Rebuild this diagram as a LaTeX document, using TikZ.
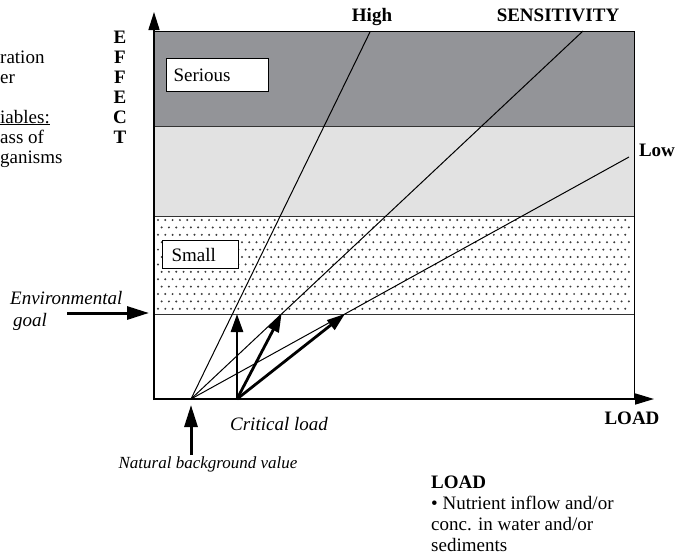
\documentclass[tikz,border=0pt]{standalone}
\usepackage{fontspec}
\setmainfont{Liberation Serif}
\usetikzlibrary{arrows.meta}
\definecolor{seriousgray}{RGB}{147,148,152}
\definecolor{lightband}{RGB}{226,226,226}
\definecolor{dotgray}{RGB}{60,60,60}

\tikzset{
    lbl/.style={font=\fontsize{19}{21}\selectfont, inner sep=0pt, anchor=base},
    boldlbl/.style={lbl, font=\fontsize{19}{21}\selectfont\bfseries},
    itlbl/.style={lbl, font=\fontsize{19}{21}\selectfont\itshape},
    levelbox/.style={draw, line width=1.2pt, fill=white, anchor=north west, inner ysep=0pt,
        font=\fontsize{19}{21}\selectfont},
    bigarrow/.style={line width=3pt, -{Triangle[length=22pt,width=13pt]}},
    critarrow/.style={line width=2.8pt, -{Triangle[length=18pt,width=12pt]}},
    sensline/.style={line width=1pt},
    bandline/.style={line width=0.9pt, draw=black!80}
}

\begin{document}
\begin{tikzpicture}[x=1pt,y=-1pt]
        \useasboundingbox (0,0) rectangle (675,555);

        % effect bands
        \fill[seriousgray] (154,31) rectangle (634,126);
        \fill[lightband] (154,126) rectangle (634,216);
        \foreach \r in {0,...,12} {
            \pgfmathsetmacro{\dy}{220+7.4*\r}
            \pgfmathsetmacro{\dx}{mod(\r,2)*3.65}
            \foreach \c in {0,...,64}
                \fill[dotgray] (158+\dx+7.3*\c, \dy) circle (1.1pt);
        }
        \draw[bandline] (154,126) -- (634,126);
        \draw[bandline] (154,216) -- (634,216);
        \draw[bandline] (154,314) -- (634,314);
        \draw[line width=0.9pt] (154,31) -- (634,31) -- (634,399);

        \node[levelbox, minimum width=102pt, minimum height=33pt, text width=88pt, inner xsep=7pt] (serious) at (166,58) {Serious};
        \node[levelbox, minimum width=76pt, minimum height=28pt, text width=58pt, inner xsep=9pt] (small) at (162,240) {Small};

        % points on the load axis and the goal line
        \coordinate (nbv) at (191,399);
        \coordinate (cl) at (237,399);
        \coordinate (goalL) at (154,314);
        \coordinate (goalR) at (634,314);
        \coordinate (hightop) at (370,32);
        \coordinate (senstop) at (583,31);
        \coordinate (lowtop) at (629,157);

        \draw[sensline] (nbv) -- (hightop);
        \draw[sensline] (nbv) -- (senstop);
        \draw[sensline] (nbv) -- (lowtop);

        \draw[critarrow] (cl) -- (cl |- goalL);
        \draw[critarrow] (cl) -- (intersection of nbv--senstop and goalL--goalR);
        \draw[critarrow] (cl) -- (intersection of nbv--lowtop and goalL--goalR);

        % axes
        \draw[line width=1.6pt, -{Triangle[length=18pt,width=11pt]}] (154,400) -- (154,12);
        \draw[line width=1.6pt, -{Triangle[length=19pt,width=11pt]}] (153.2,399) -- (654,399);

        \node[boldlbl] (high) at (372,21) {High};
        \node[boldlbl] (sens) at (558,21) {SENSITIVITY};
        \node[boldlbl] (low) at (657,156) {Low};
        \node[boldlbl] (loadaxis) at (632,424) {LOAD};

        \foreach \ch [count=\i] in {E,F,F,E,C,T}
            \node[boldlbl] (eff\i) at (120,23+20*\i) {\ch};

        \node[lbl, anchor=base west] (frag1) at (0,63) {ration};
        \node[lbl, anchor=base west] (frag2) at (0,83) {er};
        \node[lbl, anchor=base west] (frag3) at (0,123) {\underline{iables:}};
        \node[lbl, anchor=base west] (frag4) at (0,143) {ass of};
        \node[lbl, anchor=base west] (frag5) at (0,163) {ganisms};

        \node[itlbl, anchor=base west, align=left] (envgoal) at (10,326) {Environmental\\[1pt]\hspace*{3pt}goal};
        \coordinate (envtail) at (67,313);
        \draw[bigarrow] (envtail) -- (149,313);

        \node[itlbl] (crit) at (279,430) {Critical load};
        \node[itlbl, font=\fontsize{17}{20}\selectfont\itshape] (natural) at (208,468) {Natural background value};
        \coordinate (nattail) at (191,455);
        \draw[bigarrow, shorten >=6pt] (nattail) -- (nbv);

        \node[lbl, anchor=base west, align=left] (loadnote) at (431,551)
            {\textbf{LOAD}\\ • Nutrient inflow and/or\\ conc. in water and/or\\ sediments};
    \end{tikzpicture}
\end{document}
